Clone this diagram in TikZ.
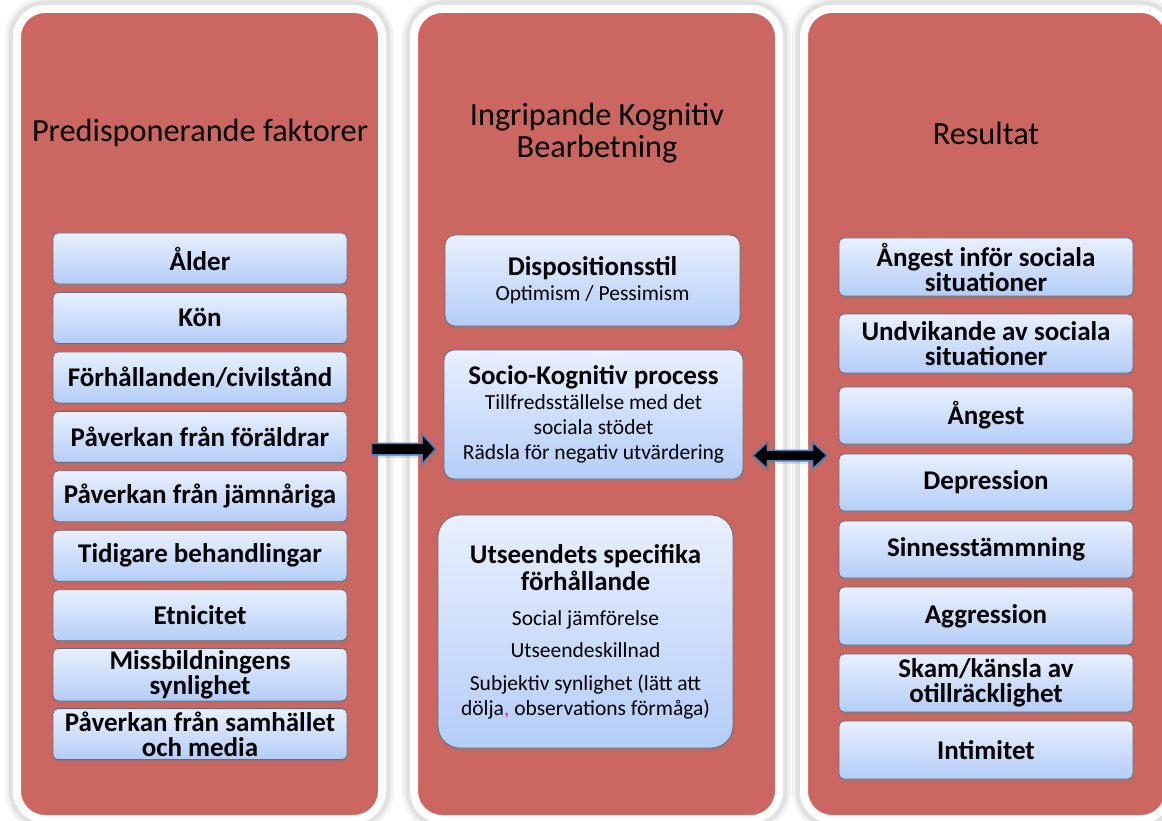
\documentclass[tikz,border=0pt]{standalone}
\usepackage{fontspec}
\setmainfont{Carlito}
\usetikzlibrary{shadows,shapes.arrows}

\definecolor{kolumnrod}{RGB}{204,102,96}
\definecolor{ljusbla}{RGB}{233,240,254}
\definecolor{mellanbla}{RGB}{180,205,247}
\definecolor{ramgra}{RGB}{98,108,124}
\definecolor{pilbla}{RGB}{74,126,187}
\definecolor{kommarosa}{RGB}{228,40,160}

\newcommand{\rubrikfont}{\fontsize{32.3}{32}\selectfont}
\newcommand{\rutfont}{\fontsize{27}{25}\selectfont\bfseries}
\newcommand{\brod}{\fontsize{21.5}{24}\selectfont\mdseries}

\tikzset{
  kolumn/.style={fill=kolumnrod, draw=white, line width=8pt, rounded corners=28pt,
    preaction={draw=black, draw opacity=.05, line width=24pt},
    preaction={draw=black, draw opacity=.07, line width=17pt}},
  rubrik/.style={align=center, font=\rubrikfont},
  ruta/.style={rounded corners=5pt, draw=ramgra, line width=.8pt,
    top color=ljusbla, bottom color=mellanbla, align=center, font=\rutfont, inner sep=2pt,
    drop shadow={shadow xshift=1pt, shadow yshift=-3pt, opacity=.35}},
  pil/.style={fill=black, draw=pilbla, line width=1.5pt, inner sep=0pt,
    drop shadow={shadow xshift=1pt, shadow yshift=-3pt, opacity=.25}}
}

\begin{document}
\begin{tikzpicture}[x=1pt, y=-1pt]
\useasboundingbox (0,0) rectangle (1162,821);
% Kolumner
\node[kolumn, minimum width=365pt, minimum height=810pt] (venster) at (199.5,414) {};
\node[kolumn, minimum width=365pt, minimum height=810pt] (mitt) at (596.5,414) {};
\node[kolumn, minimum width=365pt, minimum height=810pt] (hoger) at (986.5,414) {};
% Rubriker
\node[rubrik] (vrubrik) at (200,133) {Predisponerande faktorer};
\node[rubrik] (mrubrik) at (597,133) {Ingripande Kognitiv\\ Bearbetning};
\node[rubrik] (hrubrik) at (986,133) {Resultat};
% Faktorer
\foreach \txt [count=\i] in {Ålder, Kön, {Förhållanden/civilstånd}, Påverkan från föräldrar,
    Påverkan från jämnåriga, Tidigare behandlingar, Etnicitet, {Missbildningens\\ synlighet},
    {Påverkan från samhället\\ och media}}
  \node[ruta, minimum width=294pt, minimum height=51pt] (v\i) at (200,{258.5+(\i-1)*59.45}) {\txt};
% Bearbetning
\node[ruta, minimum width=295pt, minimum height=91pt, rounded corners=10pt] (disp) at (592.5,280.5)
  {Dispositionsstil\\ {\brod Optimism / Pessimism}};
\node[ruta, minimum width=299pt, minimum height=129pt, rounded corners=10pt] (socio) at (593.5,414.5)
  {Socio-Kognitiv process\\ {\brod Tillfredsställelse med det}\\ {\brod sociala stödet}\\ {\brod Rädsla för negativ utvärdering}};
\node[ruta, minimum width=295pt, minimum height=233pt, rounded corners=22pt] (utseende) at (585.5,631.5)
  {Utseendets specifika\\[2pt] förhållande\\[10pt] {\brod Social jämförelse}\\[7pt] {\brod Utseendeskillnad}\\[8pt]
   {\brod Subjektiv synlighet (lätt att}\\ {\brod dölja{\color{kommarosa},} observations förmåga)}};
% Resultat
\foreach \y/\h/\txt [count=\i] in {267/58/{Ångest inför sociala\\ situationer},
    343.5/59/{Undvikande av sociala\\ situationer}, 415.5/57/Ångest, 482.5/57/Depression,
    549.5/57/Sinnesstämmning, 616/58/Aggression, 683/58/{Skam/känsla av\\ otillräcklighet},
    750/58/Intimitet}
  \node[ruta, minimum width=294pt, minimum height=\h pt] (h\i) at (986,\y) {\txt};
% Pilar
\node[pil, single arrow, single arrow head extend=9pt, single arrow tip angle=95,
  minimum height=64pt] (pil1) at (401,449) {\rule{0pt}{10pt}};
\node[pil, double arrow, double arrow head extend=8pt, double arrow tip angle=85,
  minimum height=74pt] (pil2) at (790,455.5) {\rule{0pt}{9pt}};
\end{tikzpicture}
\end{document}
